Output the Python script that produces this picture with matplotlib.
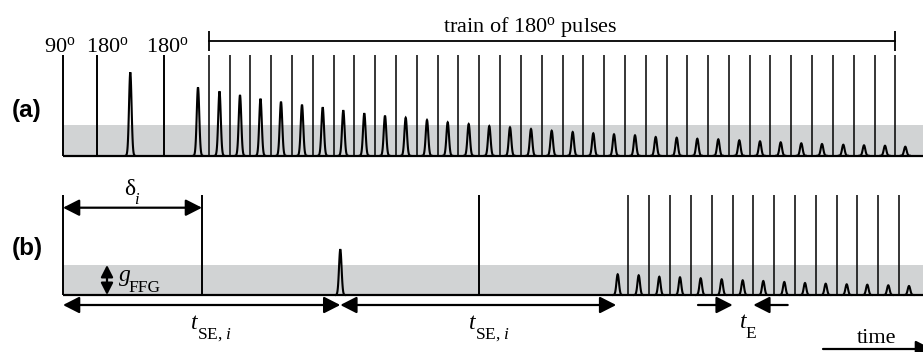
"""Pulse sequence sketch: CPMG echo train (a) and FFG diffusion sequence (b)."""

import matplotlib
matplotlib.use("Agg")
import matplotlib.pyplot as plt
import numpy as np

plt.rcParams["font.family"] = "Liberation Serif"
plt.rcParams["mathtext.fontset"] = "custom"
plt.rcParams["mathtext.rm"] = "Liberation Serif"
plt.rcParams["mathtext.it"] = "Liberation Serif:italic"

GRAY = "#d1d3d4"
WIDTH = 923

# ---- panel (a): RF pulses and echoes (time in px-like units, amplitude from baseline)
pulse_a_x = [63.0, 97.0, 164.0]
train_a_x = [209, 229.7, 250.3, 271, 292, 312.7, 333.7, 354.3, 375, 396,
             416.7, 437.7, 458.3, 479.3, 500, 521, 541.7, 562.7, 583.3, 604,
             625, 645.7, 666.7, 687.3, 708, 729, 749.7, 770.3, 791.3, 812,
             832.7, 853.7, 874.7, 895.3]
echo_a_x = [130.3, 198, 219.5, 240, 260.5, 281, 302, 322.7, 343.3, 364.3,
            385, 405.7, 427, 447.7, 468.7, 489.3, 510, 531, 551.7, 572.7,
            593.3, 614, 635, 655.7, 676.7, 697.3, 718.3, 739.3, 760, 780.7,
            801.3, 822, 843.3, 864, 885, 905.3]
echo_a_h = [83.4, 68.4, 64.4, 60.7, 57, 54, 51, 48.4, 45.4, 42.4, 40, 38,
            35.7, 33.4, 31.7, 29.7, 28.4, 26.7, 25, 23.7, 22.4, 21.4, 20.4,
            18.7, 18, 17, 16.4, 15.4, 14.4, 13.4, 12.4, 11.7, 11, 10.4, 10, 9]
pulse_a_h = 100.7
band_a_h = 30.7
pulse_a_labels = ["90$^{\\mathrm{o}}$", "180$^{\\mathrm{o}}$", "180$^{\\mathrm{o}}$"]

# ---- panel (b): FFG sequence
pulse_b_x = [63.0, 202.0, 479.3]
train_b_x = [628.3, 649.3, 670, 690.7, 711.7, 732.7, 753.3, 774, 795, 816,
             836.7, 857, 878.3, 899]
echo_b_x = [340.3, 617.7, 638.7, 659.3, 680, 700.7, 721.7, 742.7, 763.3,
            784.3, 805, 825.7, 846.7, 867.3, 888.3, 909]
echo_b_h = [45.7, 20.7, 19.7, 18.3, 17.7, 16.7, 15.7, 14.7, 14, 13, 12,
            11.3, 10.7, 10.3, 9.7, 9]
pulse_b_h = 100.0
band_b_h = 30.0


def draw_echo(ax, x0, h):
    xs = x0 + np.linspace(-4.5, 4.5, 61)
    ys = h * np.exp(-((xs - x0) / 1.8) ** 2)
    ax.plot(xs, ys, color="k", lw=1.5, solid_joinstyle="miter")


def draw_panel(ax, pulses, train, echoes, heights, pulse_h, band_h):
    start = pulses[0]
    ax.fill_between([start, WIDTH], 0, band_h, color=GRAY, lw=0, zorder=0)
    ax.vlines(pulses, 0, pulse_h, color="k", lw=1.4)
    ax.vlines(train, 0, pulse_h, color="k", lw=1.1)
    for x0, h in zip(echoes, heights):
        draw_echo(ax, x0, h)
    ax.plot([start, WIDTH], [0, 0], color="k", lw=1.6, solid_capstyle="butt")


def arrow(ax, x0, y0, x1, y1, style="<|-|>", scale=18):
    ax.annotate(
        "", xy=(x1, y1), xytext=(x0, y0),
        arrowprops=dict(arrowstyle=f"{style},head_length=0.55,head_width=0.28",
                        mutation_scale=scale, lw=1.6, color="k",
                        shrinkA=0, shrinkB=0),
        annotation_clip=False,
    )


fig = plt.figure(figsize=(9.23, 3.52), dpi=100)
ax_a = fig.add_axes([0, 0.5, 1, 0.5])
ax_b = fig.add_axes([0, 0, 1, 0.5])
ax_a.set_xlim(0, WIDTH)
ax_a.set_ylim(-20.3, 155.7)
ax_b.set_xlim(0, WIDTH)
ax_b.set_ylim(-57, 119)
for ax in (ax_a, ax_b):
    ax.axis("off")

draw_panel(ax_a, pulse_a_x, train_a_x, echo_a_x, echo_a_h, pulse_a_h, band_a_h)
draw_panel(ax_b, pulse_b_x, train_b_x, echo_b_x, echo_b_h, pulse_b_h, band_b_h)

# panel (a) annotations
for x, lab, dx in zip(pulse_a_x, pulse_a_labels, [-3, 10, 3]):
    ax_a.text(x + dx, 104, lab, ha="center", va="baseline", fontsize=16)

bracket_y = 114.7
ax_a.plot([train_a_x[0], train_a_x[-1]], [bracket_y, bracket_y], color="k", lw=1.3)
ax_a.vlines([train_a_x[0], train_a_x[-1]], bracket_y - 10, bracket_y + 10,
            color="k", lw=1.3)
ax_a.text(530, 124, "train of 180$^{\\mathrm{o}}$ pulses", ha="center",
          va="baseline", fontsize=16)
ax_a.text(27, 45.7, "(a)", ha="center", va="center", fontsize=17.5,
          fontweight="bold", family="Liberation Sans")

# panel (b) annotations
ax_b.text(27, 47, "(b)", ha="center", va="center", fontsize=17.5,
          fontweight="bold", family="Liberation Sans")

arrow(ax_b, pulse_b_x[0], 87.3, pulse_b_x[1], 87.3)
ax_b.text(124.5, 100, "δ", fontsize=17, va="baseline")
ax_b.text(134.5, 91.5, "$i$", fontsize=12, va="baseline")

arrow(ax_b, 107, 0, 107, band_b_h, scale=13)
ax_b.text(118, 14, "$g$", fontsize=17, va="baseline")
ax_b.text(128, 3.5, "FFG", fontsize=12.5, va="baseline")

t_y = -10
arrow(ax_b, pulse_b_x[0], t_y, echo_b_x[0], t_y)
arrow(ax_b, echo_b_x[0], t_y, echo_b_x[1] - 1.5, t_y)
for tx in (190, 468):
    ax_b.text(tx, -34, "$t$", fontsize=17, va="baseline")
    ax_b.text(tx + 7, -44, "SE, $i$", fontsize=12.5, va="baseline")

arrow(ax_b, 698, t_y, train_b_x[5], t_y, style="-|>")
arrow(ax_b, 787.7, t_y, train_b_x[6], t_y, style="-|>")
ax_b.text(739, -33, "$t$", fontsize=17, va="baseline")
ax_b.text(745.5, -43.5, "E", fontsize=12.5, va="baseline")

arrow(ax_b, 823, -54, 932, -54, style="-|>")
ax_b.text(877, -48, "time", ha="center", va="baseline", fontsize=16)

fig.savefig("out.png", dpi=100)
